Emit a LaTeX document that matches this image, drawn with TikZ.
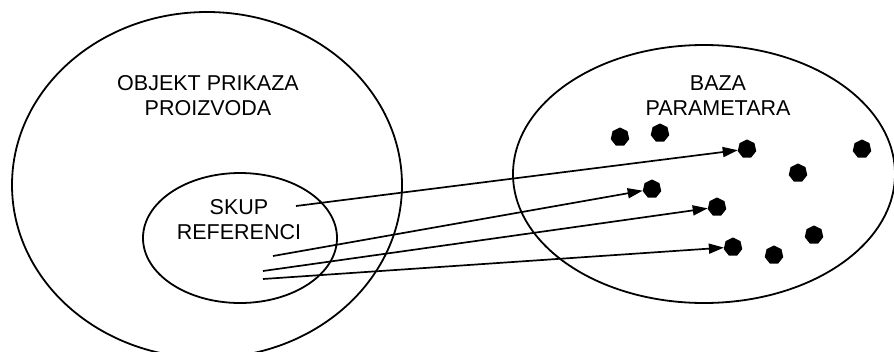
\documentclass[tikz,border=0pt]{standalone}
\usepackage{fontspec}
\setmainfont{Liberation Sans}
\usetikzlibrary{shapes.geometric,arrows.meta}
\tikzset{
  setline/.style={draw=black,line width=1.8pt},
  setshape/.style={ellipse,setline,inner sep=0pt},
  lbl/.style={align=center,font=\fontsize{21.5}{25}\selectfont,inner sep=0pt},
  dotnode/.style={regular polygon,regular polygon sides=7,fill=black,draw=none,minimum size=19pt,inner sep=0pt},
  refarrow/.style={line width=1.7pt,-{Triangle[length=15pt,width=10pt]}}
}
\begin{document}
\begin{tikzpicture}[x=1pt,y=-1pt]
\useasboundingbox (0,0) rectangle (894,351);
\clip (0,0) rectangle (894,351);
% sets
\node[setshape,minimum width=390pt,minimum height=346pt] (obj) at (207,185) {};
\node[setshape,minimum width=194pt,minimum height=130pt] (skup) at (240,238) {};
\node[setshape,minimum width=382pt,minimum height=258pt] (baza) at (704,174) {};
% labels
\node[lbl] (tobj) at (208,96) {OBJEKT PRIKAZA\\PROIZVODA};
\node[lbl] (tskup) at (239,220) {SKUP\\REFERENCI};
\node[lbl] (tbaza) at (718,96) {BAZA\\PARAMETARA};
% parameters
\node[dotnode] (d1) at (620,137) {};
\node[dotnode] (d2) at (660,133) {};
\node[dotnode] (d3) at (747,149) {};
\node[dotnode] (d4) at (862,149) {};
\node[dotnode] (d5) at (798,173) {};
\node[dotnode] (d6) at (652,189) {};
\node[dotnode] (d7) at (717,207) {};
\node[dotnode] (d8) at (814,235) {};
\node[dotnode] (d9) at (733,247) {};
\node[dotnode] (d10) at (774,255) {};
% reference starts
\coordinate (s1) at (296,206);
\coordinate (s2) at (273,256);
\coordinate (s3) at (263,271);
\coordinate (s4) at (263,279);
\draw[refarrow] (s1) -- (d3);
\draw[refarrow] (s2) -- (d6);
\draw[refarrow] (s3) -- (d7);
\draw[refarrow] (s4) -- (d9);
\end{tikzpicture}
\end{document}
